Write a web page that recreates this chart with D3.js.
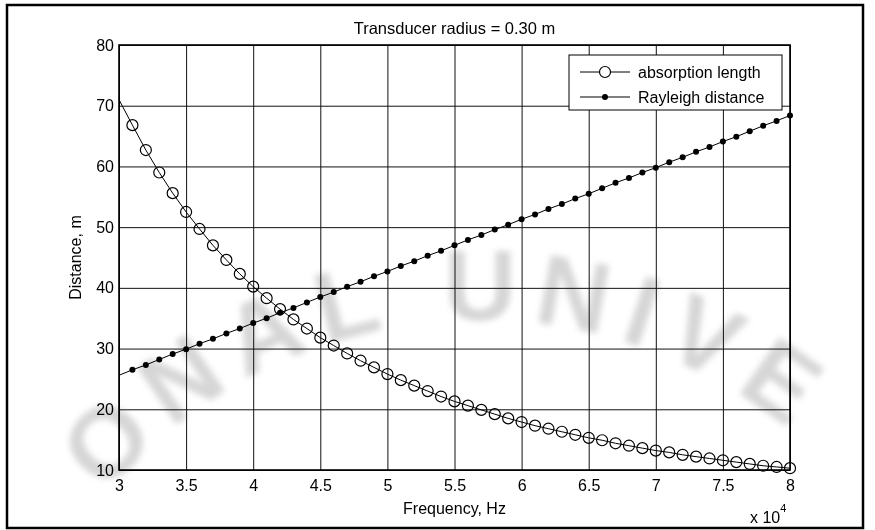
<!DOCTYPE html>
<html>
<head>
<meta charset="utf-8">
<script src="https://cdn.jsdelivr.net/npm/d3@7"></script>
<style>
  html, body { margin: 0; padding: 0; background: #fff; }
  svg { display: block; font-family: "Liberation Sans", Arial, sans-serif; }
</style>
</head>
<body>
<svg id="chart" width="875" height="530"></svg>
<script>
// Frequency samples, in units of 10^4 Hz
const frequency = [
  3.0, 3.1, 3.2, 3.3, 3.4, 3.5, 3.6, 3.7, 3.8, 3.9,
  4.0, 4.1, 4.2, 4.3, 4.4, 4.5, 4.6, 4.7, 4.8, 4.9,
  5.0, 5.1, 5.2, 5.3, 5.4, 5.5, 5.6, 5.7, 5.8, 5.9,
  6.0, 6.1, 6.2, 6.3, 6.4, 6.5, 6.6, 6.7, 6.8, 6.9,
  7.0, 7.1, 7.2, 7.3, 7.4, 7.5, 7.6, 7.7, 7.8, 7.9,
  8.0
];
// Absorption length, m
const absorptionLength = [
  71.0, 66.8, 62.7, 59.0, 55.6, 52.5, 49.7, 47.0, 44.6, 42.3,
  40.2, 38.3, 36.5, 34.8, 33.3, 31.8, 30.5, 29.2, 28.0, 26.9,
  25.8, 24.8, 23.9, 23.0, 22.1, 21.3, 20.6, 19.9, 19.2, 18.5,
  17.9, 17.3, 16.8, 16.3, 15.8, 15.3, 14.9, 14.4, 14.0, 13.6,
  13.2, 12.9, 12.5, 12.2, 11.9, 11.6, 11.3, 11.0, 10.7, 10.5,
  10.3
];
// Rayleigh distance, m
const rayleighDistance = [
  25.6, 26.5, 27.3, 28.2, 29.1, 29.9, 30.8, 31.6, 32.5, 33.3,
  34.2, 35.0, 35.9, 36.7, 37.6, 38.5, 39.3, 40.2, 41.0, 41.9,
  42.7, 43.6, 44.4, 45.3, 46.1, 47.0, 47.9, 48.7, 49.6, 50.4,
  51.3, 52.1, 53.0, 53.8, 54.7, 55.5, 56.4, 57.3, 58.1, 59.0,
  59.8, 60.7, 61.5, 62.4, 63.2, 64.1, 64.9, 65.8, 66.7, 67.5,
  68.4
];
const xTicks = [3, 3.5, 4, 4.5, 5, 5.5, 6, 6.5, 7, 7.5, 8];
const yTicks = [10, 20, 30, 40, 50, 60, 70, 80];
const seriesNames = ["absorption length", "Rayleigh distance"];
const titleText = "Transducer radius = 0.30 m";
const xLabel = "Frequency, Hz";
const yLabel = "Distance, m";
const watermarkText = "NATIONAL UNIVERSITY";

const svg = d3.select("#chart");
const W = 875, H = 530;
const m = { left: 119, top: 45, right: 790, bottom: 470 };

const x = d3.scaleLinear().domain([3, 8]).range([m.left, m.right]);
const y = d3.scaleLinear().domain([10, 80]).range([m.bottom, m.top]);

svg.append("rect").attr("width", W).attr("height", H).attr("fill", "#fff");

// faint arched watermark, one glyph at a time along a circle;
// glyphs that would run past the page edge are left out
const defs = svg.append("defs");
defs.append("filter").attr("id", "soft")
  .attr("x", "-30%").attr("y", "-30%").attr("width", "160%").attr("height", "160%")
  .append("feGaussianBlur").attr("stdDeviation", 3);
const wmSize = 100;
const wm = svg.append("g")
  .attr("filter", "url(#soft)")
  .attr("fill", "#d6d6d6")
  .attr("font-size", wmSize)
  .attr("font-weight", "bold");
(function placeArc() {
  const cx = 480, cy = 810, rb = 490, gap = 16;
  const cap = 0.72 * wmSize;
  const chars = watermarkText.split("");
  const widths = chars.map(c => {
    const t = wm.append("text").text(c === " " ? "\u00a0" : c);
    const w = t.node().getComputedTextLength();
    t.remove();
    return w;
  });
  const centres = [];
  let s = 0;
  widths.forEach(w => { centres.push(s + w / 2); s += w + gap; });
  const shift = centres[chars.indexOf("U")];
  chars.forEach((c, i) => {
    if (c === " ") return;
    const phi = (centres[i] - shift) / rb;
    const px = cx + rb * Math.sin(phi), py = cy - rb * Math.cos(phi);
    const cosP = Math.cos(phi), sinP = Math.sin(phi), hw = widths[i] / 2;
    const corners = [[-hw, 0], [hw, 0], [-hw, -cap], [hw, -cap]].map(([u, v]) =>
      [px + u * cosP - v * sinP, py + u * sinP + v * cosP]);
    const inside = corners.every(([a, b]) => a > 4 && a < W - 4 && b > 4 && b < H - 4);
    if (!inside) return;
    wm.append("text")
      .attr("text-anchor", "middle")
      .attr("transform", `translate(${px},${py}) rotate(${phi * 180 / Math.PI})`)
      .text(c);
  });
})();

// outer figure border
svg.append("rect")
  .attr("x", 7).attr("y", 5).attr("width", 856).attr("height", 523)
  .attr("fill", "none").attr("stroke", "#000").attr("stroke-width", 2.5);

// grid + tick labels through the axes
const xAxis = svg.append("g")
  .attr("transform", `translate(0,${m.bottom})`)
  .call(d3.axisBottom(x).tickValues(xTicks).tickFormat(d3.format("")).tickSize(-(m.bottom - m.top)));
const yAxis = svg.append("g")
  .attr("transform", `translate(${m.left},0)`)
  .call(d3.axisLeft(y).tickValues(yTicks).tickFormat(d3.format("d")).tickSize(-(m.right - m.left)).tickPadding(5));

[xAxis, yAxis].forEach(g => {
  g.select(".domain").remove();
  g.selectAll(".tick line").attr("stroke", "#111").attr("stroke-width", 1);
  g.selectAll(".tick text")
    .attr("fill", "#000")
    .attr("font-size", 16)
    .attr("font-family", "Liberation Sans, Arial, sans-serif");
});
xAxis.selectAll(".tick text").attr("dy", "0.71em").attr("y", 10);

// curves
const line = d3.line().x(d => x(d[0])).y(d => y(d[1]));
const absPts = frequency.map((f, i) => [f, absorptionLength[i]]);
const rayPts = frequency.map((f, i) => [f, rayleighDistance[i]]);

const plot = svg.append("g");
plot.append("path").datum(absPts).attr("d", line)
  .attr("fill", "none").attr("stroke", "#000").attr("stroke-width", 1);
plot.append("path").datum(rayPts).attr("d", line)
  .attr("fill", "none").attr("stroke", "#000").attr("stroke-width", 1);

// markers from the second sample onward
plot.selectAll("circle.abs").data(absPts.slice(1)).join("circle")
  .attr("class", "abs")
  .attr("cx", d => x(d[0])).attr("cy", d => y(d[1])).attr("r", 5.5)
  .attr("fill", "none").attr("stroke", "#000").attr("stroke-width", 1.2);
plot.selectAll("circle.ray").data(rayPts.slice(1)).join("circle")
  .attr("class", "ray")
  .attr("cx", d => x(d[0])).attr("cy", d => y(d[1])).attr("r", 3)
  .attr("fill", "#000");

// axes box
svg.append("rect")
  .attr("x", m.left).attr("y", m.top)
  .attr("width", m.right - m.left).attr("height", m.bottom - m.top)
  .attr("fill", "none").attr("stroke", "#000").attr("stroke-width", 1.6);

// title and axis labels
svg.append("text").attr("x", (m.left + m.right) / 2).attr("y", 34)
  .attr("text-anchor", "middle").attr("font-size", 16.5).text(titleText);
svg.append("text").attr("x", (m.left + m.right) / 2).attr("y", 514)
  .attr("text-anchor", "middle").attr("font-size", 16).text(xLabel);
svg.append("text")
  .attr("transform", `translate(81,${(m.top + m.bottom) / 2}) rotate(-90)`)
  .attr("text-anchor", "middle").attr("font-size", 16).text(yLabel);
const mult = svg.append("text").attr("x", 750).attr("y", 523).attr("font-size", 16);
mult.append("tspan").text("x 10");
mult.append("tspan").attr("font-size", 11).attr("dy", -11).text("4");

// legend
const lg = svg.append("g");
lg.append("rect").attr("x", 569).attr("y", 55).attr("width", 213).attr("height", 55)
  .attr("fill", "#fff").attr("stroke", "#000").attr("stroke-width", 1);
const rows = [72, 97];
seriesNames.forEach((name, i) => {
  const ry = rows[i];
  lg.append("line").attr("x1", 580).attr("x2", 630).attr("y1", ry).attr("y2", ry)
    .attr("stroke", "#000").attr("stroke-width", 1);
  if (i === 0) {
    lg.append("circle").attr("cx", 605).attr("cy", ry).attr("r", 5.5)
      .attr("fill", "#fff").attr("stroke", "#000").attr("stroke-width", 1.2);
  } else {
    lg.append("circle").attr("cx", 605).attr("cy", ry).attr("r", 3).attr("fill", "#000");
  }
  lg.append("text").attr("x", 638).attr("y", ry).attr("dy", "0.35em")
    .attr("font-size", 16).text(name);
});
</script>
</body>
</html>
